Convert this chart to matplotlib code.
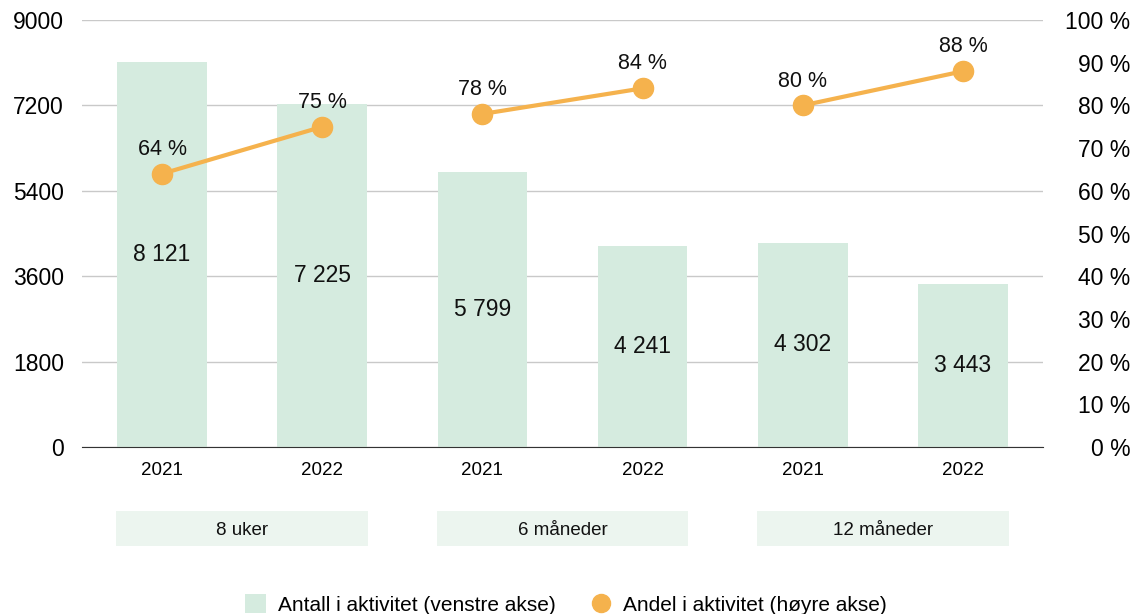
import matplotlib
matplotlib.use("Agg")
import matplotlib.pyplot as plt
from matplotlib.patches import Rectangle, Patch
from matplotlib.lines import Line2D
import matplotlib.transforms as mtransforms

plt.rcParams['font.family'] = ['Liberation Sans', 'DejaVu Sans']

# data
years = ["2021", "2022", "2021", "2022", "2021", "2022"]
groups = ["8 uker", "6 måneder", "12 måneder"]
antall = [8121, 7225, 5799, 4241, 4302, 3443]
andel = [64, 75, 78, 84, 80, 88]

bar_color = "#d5ebdf"
box_color = "#ecf5ef"
line_color = "#f5b24d"

fig = plt.figure(figsize=(11.32, 6.14), dpi=100)
ax = fig.add_axes([0.0724, 0.272, 0.849, 0.6954])
ax2 = ax.twinx()

x = list(range(len(antall)))
ax.bar(x, antall, width=0.56, color=bar_color, zorder=2)
for xi, v in zip(x, antall):
    ax.text(xi, v / 2, f"{v:,}".replace(",", " "), ha="center", va="center",
            fontsize=16.5, color="#111111", zorder=3)

ax.set_xlim(-0.5, len(antall) - 0.5)
ax.set_ylim(0, 9000)
ax.set_yticks(range(0, 9001, 1800))
ax.set_xticks(x)
ax.set_xticklabels(years, fontsize=13.5)
ax.tick_params(axis="y", length=0, pad=13, labelsize=16.5)
ax.tick_params(axis="x", length=0, pad=11)
ax.grid(axis="y", color="#c9c9c9", linewidth=1)
ax.set_axisbelow(True)
for s in ["top", "left", "right"]:
    ax.spines[s].set_visible(False)
ax.spines["bottom"].set_color("#333333")

# share line, drawn per group pair
for g in range(len(groups)):
    xs = x[2 * g:2 * g + 2]
    ys = andel[2 * g:2 * g + 2]
    ax2.plot(xs, ys, color=line_color, linewidth=3, marker="o",
             markersize=14.5, zorder=4)
    for xi, v in zip(xs, ys):
        ax2.annotate(f"{v} %", (xi, v), xytext=(0, 10), textcoords="offset points",
                     ha="center", va="bottom", fontsize=15.5, color="#111111")

ax2.set_ylim(0, 100)
ax2.set_yticks(range(0, 101, 10))
ax2.set_yticklabels([f"{t} %" for t in range(0, 101, 10)])
ax2.tick_params(axis="y", length=0, pad=63, labelsize=16.5)
for lab in ax2.get_yticklabels():
    lab.set_horizontalalignment("right")
for s in ax2.spines.values():
    s.set_visible(False)

# group label boxes under the year labels
trans = mtransforms.blended_transform_factory(ax.transData, fig.transFigure)
for g, name in enumerate(groups):
    c = 2 * g + 0.5
    ax.add_patch(Rectangle((c - 0.785, 0.111), 1.57, 0.057, transform=trans,
                           facecolor=box_color, edgecolor="none", clip_on=False))
    ax.text(c, 0.136, name, transform=trans, ha="center", va="center",
            fontsize=13.5, color="#111111")

handles = [
    Patch(facecolor=bar_color, edgecolor="none"),
    Line2D([], [], color=line_color, marker="o", linestyle="none", markersize=13),
]
fig.legend(handles, ["Antall i aktivitet (venstre akse)", "Andel i aktivitet (høyre akse)"],
           loc="lower center", bbox_to_anchor=(0.5, -0.032), ncol=2, frameon=False,
           fontsize=15, handlelength=1.0, handleheight=1.0, columnspacing=1.7,
           handletextpad=0.55)

fig.savefig("out.png", dpi=100)
